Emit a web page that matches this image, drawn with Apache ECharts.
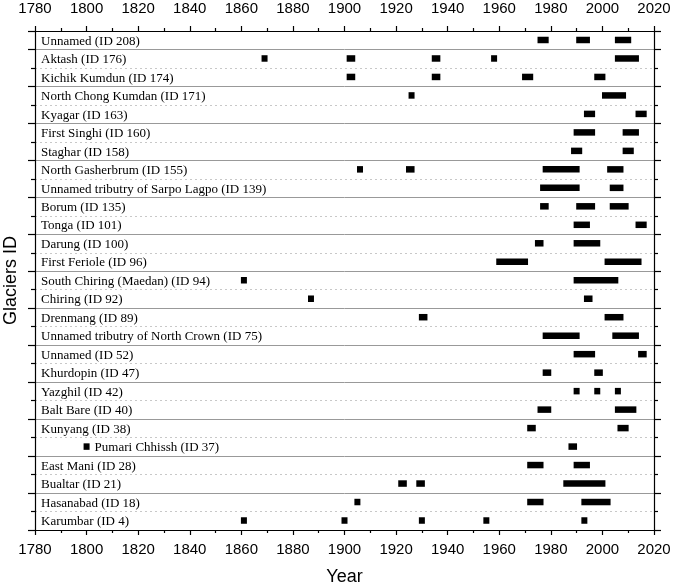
<!DOCTYPE html>
<html>
<head>
<meta charset="utf-8">
<script src="https://cdn.jsdelivr.net/npm/echarts@6/dist/echarts.min.js"></script>
<style>
html,body{margin:0;padding:0;background:#fff;}
#chart{width:675px;height:586px;}
</style>
</head>
<body>
<div id="chart"></div>
<script>
// ---- data ----
const glaciers = [
  'Unnamed (ID 208)',
  'Aktash (ID 176)',
  'Kichik Kumdun (ID 174)',
  'North Chong Kumdan (ID 171)',
  'Kyagar (ID 163)',
  'First Singhi (ID 160)',
  'Staghar (ID 158)',
  'North Gasherbrum (ID 155)',
  'Unnamed tributry of Sarpo Lagpo (ID 139)',
  'Borum (ID 135)',
  'Tonga (ID 101)',
  'Darung (ID 100)',
  'First Feriole (ID 96)',
  'South Chiring (Maedan) (ID 94)',
  'Chiring (ID 92)',
  'Drenmang (ID 89)',
  'Unnamed tributry of North Crown (ID 75)',
  'Unnamed (ID 52)',
  'Khurdopin (ID 47)',
  'Yazghil (ID 42)',
  'Balt Bare (ID 40)',
  'Kunyang (ID 38)',
  'Pumari Chhissh (ID 37)',
  'East Mani (ID 28)',
  'Bualtar (ID 21)',
  'Hasanabad (ID 18)',
  'Karumbar (ID 4)'
];

// surge periods [startYear, endYear] per glacier (same order as glaciers)
const surgePeriods = [
  [[1976,1978],[1991,1994],[2006,2010]],
  [[1869,1869],[1902,1903],[1935,1936],[1958,1958],[2006,2013]],
  [[1902,1903],[1935,1936],[1970,1972],[1998,2000]],
  [[1926,1926],[2001,2008]],
  [[1994,1996],[2014,2016]],
  [[1990,1996],[2009,2013]],
  [[1989,1991],[2009,2011]],
  [[1906,1906],[1925,1926],[1978,1990],[2003,2007]],
  [[1977,1990],[2004,2007]],
  [[1977,1978],[1991,1996],[2004,2009]],
  [[1990,1994],[2014,2016]],
  [[1975,1976],[1990,1998]],
  [[1960,1970],[2002,2014]],
  [[1861,1861],[1990,2005]],
  [[1887,1887],[1994,1995]],
  [[1930,1931],[2002,2007]],
  [[1978,1990],[2005,2013]],
  [[1990,1996],[2015,2016]],
  [[1978,1979],[1998,1999]],
  [[1990,1990],[1998,1998],[2006,2006]],
  [[1976,1979],[2006,2012]],
  [[1972,1973],[2007,2009]],
  [[1800,1800],[1988,1989]],
  [[1972,1976],[1990,1994]],
  [[1922,1923],[1929,1930],[1986,2000]],
  [[1905,1905],[1972,1976],[1993,2002]],
  [[1861,1861],[1900,1900],[1930,1930],[1955,1955],[1993,1993]]
];

const yearMin = 1780, yearMax = 2020, yearStep = 20;

// ---- build ----
const N = glaciers.length;
const barData = [];
surgePeriods.forEach((list, row) => list.forEach(p => barData.push([row, p[0], p[1]])));
const labelData = glaciers.map((g, row) => [row]);

const sansFont = "Arial, 'Liberation Sans', sans-serif";
const serifFont = "'Times New Roman', 'Liberation Serif', serif";

function xAxisCfg(pos) {
  return {
    type: 'value', position: pos, min: yearMin, max: yearMax, interval: yearStep,
    axisLine: {show: true, onZero: false, lineStyle: {color: '#000', width: 1.2}},
    axisTick: {show: true, inside: false, length: 5, lineStyle: {color: '#000', width: 1.2}},
    minorTick: {show: true, splitNumber: 2, length: 3, lineStyle: {color: '#000', width: 1.2}},
    axisLabel: {show: true, color: '#000', fontSize: 15, fontFamily: sansFont,
      margin: pos === 'top' ? 15 : 12, formatter: v => String(v)},
    splitLine: {show: false}
  };
}
function yAxisCfg(pos) {
  const c = {
    type: 'value', position: pos, min: 0, max: N, interval: 2,
    axisLine: {show: true, onZero: false, lineStyle: {color: '#000', width: 1.2}},
    axisTick: {show: true, inside: false, length: 7, lineStyle: {color: '#000', width: 1.2}},
    minorTick: {show: true, splitNumber: 2, length: 4, lineStyle: {color: '#000', width: 1.2}},
    axisLabel: {show: false},
    splitLine: {show: false},
    minorSplitLine: {show: false}
  };
  if (pos === 'left') {
    c.name = 'Glaciers ID';
    c.nameLocation = 'middle';
    c.nameGap = 15;
    c.nameTextStyle = {fontSize: 18, fontFamily: sansFont, color: '#000'};
    c.splitLine = {show: true, lineStyle: {color: '#999', width: 1}};
    c.minorSplitLine = {show: true, lineStyle: {color: '#c8c8c8', width: 1, type: [2, 3]}};
  }
  return c;
}

const xb = xAxisCfg('bottom');
xb.name = 'Year'; xb.nameLocation = 'middle'; xb.nameGap = 38;
xb.nameTextStyle = {fontSize: 18, fontFamily: sansFont, color: '#000'};

const option = {
  animation: false,
  backgroundColor: '#fff',
  grid: {left: 35, right: 21, top: 31, bottom: 56, containLabel: false, outerBoundsMode: 'none'},
  xAxis: [xb, xAxisCfg('top')],
  yAxis: [yAxisCfg('left'), yAxisCfg('right')],
  series: [
    {
      type: 'custom', xAxisIndex: 0, yAxisIndex: 0, data: barData, z: 5,
      renderItem: function (params, api) {
        const row = api.value(0);
        const yv = N - 0.5 - row;
        const p1 = api.coord([api.value(1), yv]);
        const p2 = api.coord([api.value(2), yv]);
        return {
          type: 'rect',
          shape: {x: p1[0] - 3, y: p1[1] - 3.5, width: p2[0] - p1[0] + 6, height: 6.5},
          style: {fill: '#000'}
        };
      }
    },
    {
      type: 'custom', xAxisIndex: 0, yAxisIndex: 0, data: labelData, z: 6, clip: false,
      renderItem: function (params, api) {
        const row = api.value(0);
        const yv = N - 0.5 - row;
        let x = api.coord([yearMin, yv])[0] + 6;
        const first = surgePeriods[row][0];
        if (first && first[0] < yearMin + 30) {
          x = api.coord([first[1], yv])[0] + 8;
        }
        const y = api.coord([yearMin, yv])[1] + 1;
        return {
          type: 'text',
          style: {
            x: x, y: y, text: glaciers[row],
            fill: '#000', font: '13px ' + serifFont,
            textAlign: 'left', textVerticalAlign: 'middle'
          }
        };
      }
    }
  ]
};

const chart = echarts.init(document.getElementById('chart'), null, {renderer: 'canvas'});
chart.setOption(option);
</script>
</body>
</html>
